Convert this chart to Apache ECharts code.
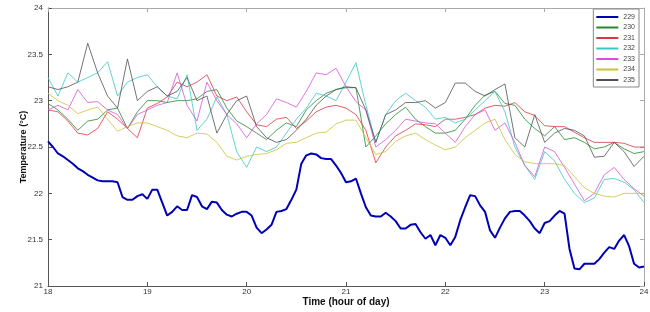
<!DOCTYPE html>
<html>
<head>
<meta charset="utf-8">
<script src="https://cdn.jsdelivr.net/npm/echarts@6/dist/echarts.min.js"></script>
<style>
  html, body { margin: 0; padding: 0; background: #fff; }
  #chart { width: 650px; height: 312px; }
</style>
</head>
<body>
<div id="chart"></div>
<script>
// sensor names (legend)
const sensors = ['229', '230', '231', '232', '233', '234', '235'];
const colors = ['#0000b4', '#238a2e', '#e2343e', '#3ac6c6', '#d452d8', '#c9c23a', '#505050'];

// x ticks (hour of day)
const startHour = 18;
const endHour = 24;

// sensor 229 sampled every 0.05 h
const fineStep = 0.05;
const s229 = [
  22.56, 22.50, 22.43, 22.40, 22.36, 22.32, 22.27, 22.24, 22.20, 22.17,
  22.14, 22.13, 22.13, 22.13, 22.12, 21.96, 21.93, 21.93, 21.97, 21.99,
  21.94, 22.04, 22.04, 21.90, 21.76, 21.80, 21.86, 21.82, 21.82, 21.98,
  21.96, 21.86, 21.83, 21.91, 21.90, 21.82, 21.77, 21.75, 21.78, 21.80,
  21.80, 21.76, 21.63, 21.57, 21.61, 21.66, 21.80, 21.81, 21.83, 21.93,
  22.04, 22.32, 22.41, 22.43, 22.42, 22.38, 22.37, 22.37, 22.30, 22.22,
  22.12, 22.13, 22.16, 22.00, 21.85, 21.76, 21.75, 21.75, 21.79, 21.75,
  21.70, 21.62, 21.62, 21.66, 21.67, 21.58, 21.51, 21.55, 21.44, 21.55,
  21.52, 21.44, 21.53, 21.71, 21.85, 21.98, 21.97, 21.87, 21.80, 21.60,
  21.52, 21.63, 21.73, 21.80, 21.81, 21.81, 21.76, 21.70, 21.62, 21.57,
  21.68, 21.70, 21.76, 21.81, 21.78, 21.40, 21.19, 21.18, 21.24, 21.24,
  21.24, 21.29, 21.36, 21.42, 21.40, 21.49, 21.55, 21.43, 21.24, 21.20,
  21.21
];

// other sensors sampled every 0.1 h
const step = 0.1;
const s230 = [
  22.97, 22.90, 22.80, 22.68, 22.78, 22.80, 22.90, 22.92, 22.70, 22.88,
  23.00, 23.00, 22.98, 23.00, 23.00, 23.02, 23.10, 23.12, 22.92, 22.78,
  22.72, 22.65, 22.58, 22.68, 22.76, 22.72, 22.90, 23.00, 23.08, 23.12,
  23.14, 23.14, 22.50, 22.62, 22.75, 22.85, 22.93, 22.80, 22.72, 22.65,
  22.65, 22.68, 22.80, 22.95, 23.06, 23.10, 22.97, 22.95, 22.80, 22.70,
  22.62, 22.72, 22.58, 22.60, 22.55, 22.48, 22.50, 22.55, 22.48, 22.43,
  22.45
];
const s231 = [
  22.90, 22.88, 22.78, 22.65, 22.63, 22.70, 22.88, 22.80, 22.70, 22.60,
  22.92, 22.97, 23.04, 23.20, 23.15, 23.20, 23.28, 23.05, 23.00, 23.04,
  22.88, 22.74, 22.72, 22.80, 22.82, 22.70, 22.78, 22.88, 22.93, 22.95,
  22.92, 22.85, 22.68, 22.33, 22.50, 22.62, 22.68, 22.75, 22.74, 22.72,
  22.80, 22.80, 22.82, 22.85, 22.92, 22.95, 22.94, 22.98, 22.88, 22.84,
  22.73, 22.72, 22.72, 22.66, 22.60, 22.55, 22.55, 22.55, 22.54, 22.50,
  22.50
];
const s232 = [
  23.25, 23.05, 23.30, 23.20, 23.25, 23.30, 23.42, 23.05, 23.20, 23.25,
  23.28, 23.15, 23.05, 23.02, 23.28, 22.68, 22.80, 23.04, 22.85, 22.45,
  22.28, 22.50, 22.45, 22.50, 22.65, 22.80, 22.92, 23.08, 23.05, 23.00,
  23.20, 23.41, 22.95, 22.55, 22.85, 23.00, 23.08, 23.00, 22.93, 22.80,
  22.82, 22.76, 22.80, 22.90, 23.00, 23.10, 22.88, 22.50, 22.30, 22.15,
  22.45, 22.35, 22.15, 22.00, 21.90, 21.95, 22.15, 22.16, 22.12, 22.04,
  21.90
];
const s233 = [
  22.90, 22.95, 22.90, 23.12, 22.98, 22.99, 22.90, 22.85, 22.70, 22.85,
  22.90, 22.95, 22.98, 23.30, 22.95, 22.78, 23.20, 23.00, 22.85, 22.75,
  22.60, 22.75, 22.85, 23.02, 22.98, 22.93, 23.10, 23.30, 23.28, 23.35,
  23.15, 22.99, 22.90, 22.50, 22.58, 22.68, 22.80, 22.78, 22.76, 22.75,
  22.65, 22.55, 22.72, 22.85, 22.90, 22.68, 22.76, 22.55, 22.30, 22.18,
  22.50, 22.45, 22.28, 22.10, 21.92, 22.00, 22.20, 22.28, 22.15, 22.05,
  21.97
];
const s234 = [
  23.08, 23.00, 22.95, 22.86, 22.90, 22.93, 22.80, 22.67, 22.72, 22.76,
  22.76, 22.72, 22.68, 22.62, 22.60, 22.65, 22.64, 22.55, 22.40, 22.36,
  22.40, 22.42, 22.43, 22.47, 22.54, 22.55, 22.60, 22.65, 22.66, 22.75,
  22.79, 22.79, 22.60, 22.42, 22.45, 22.56, 22.62, 22.65, 22.58, 22.52,
  22.47, 22.50, 22.60, 22.68, 22.76, 22.80, 22.58, 22.42, 22.34, 22.32,
  22.32, 22.32, 22.30, 22.18, 22.06, 22.00, 21.97, 21.96, 22.00, 22.00,
  22.00
];
const s235 = [
  23.15, 23.12, 23.15, 23.20, 23.62, 23.30, 23.05, 22.92, 23.45, 23.00,
  23.10, 23.15, 23.05, 23.10, 23.25, 23.00, 23.05, 22.65, 22.85, 23.00,
  23.05, 22.72, 22.60, 22.55, 22.58, 22.68, 22.80, 22.95, 23.05, 23.12,
  23.15, 23.14, 22.90, 22.55, 22.85, 22.90, 22.98, 22.98, 23.00, 22.92,
  22.98, 23.19, 23.19, 23.10, 23.05, 23.12, 23.18, 22.60, 22.50, 22.85,
  22.55, 22.65, 22.70, 22.68, 22.62, 22.39, 22.40, 22.55, 22.45, 22.29,
  22.40
];

const seriesValues = [s229, s230, s231, s232, s233, s234, s235];
const seriesSteps = [fineStep, step, step, step, step, step, step];

const font = 'Liberation Sans, Arial, sans-serif';

const series = sensors.map((name, k) => ({
  name: name,
  type: 'line',
  symbol: 'none',
  z: k === 0 ? 3 : 2,
  lineStyle: { width: k === 0 ? 2 : 0.8, color: colors[k] },
  itemStyle: { color: colors[k] },
  data: seriesValues[k].map((v, i) => [startHour + i * seriesSteps[k], v])
}));

const chart = echarts.init(document.getElementById('chart'));
chart.setOption({
  animation: false,
  backgroundColor: '#fff',
  grid: { left: 48, right: 6, top: 8, bottom: 26, outerBoundsMode: 'none' },
  legend: {
    orient: 'vertical',
    right: 11,
    top: 9,
    data: sensors,
    icon: 'rect',
    itemWidth: 22,
    itemHeight: 2,
    itemGap: 2.5,
    padding: [4, 4, 3, 3],
    borderColor: '#888',
    borderWidth: 1,
    backgroundColor: '#fff',
    textStyle: { fontSize: 7, lineHeight: 8, color: '#444', fontFamily: font }
  },
  xAxis: [{
    type: 'value',
    min: startHour,
    max: endHour,
    interval: 1,
    name: 'Time (hour of day)',
    nameLocation: 'middle',
    nameGap: 11,
    nameMoveOverlap: false,
    nameTextStyle: { fontSize: 10, fontWeight: 'bold', color: '#111', fontFamily: font },
    axisLine: { lineStyle: { color: '#555' } },
    axisTick: { inside: true, length: 4, lineStyle: { color: '#555' } },
    axisLabel: { fontSize: 8, color: '#333', margin: 2, fontFamily: font },
    splitLine: { show: false }
  }, {
    type: 'value',
    position: 'top',
    min: startHour,
    max: endHour,
    interval: 1,
    axisLine: { lineStyle: { color: '#aaa' } },
    axisTick: { inside: true, length: 4, lineStyle: { color: '#aaa' } },
    axisLabel: { show: false },
    splitLine: { show: false }
  }],
  yAxis: [{
    type: 'value',
    min: 21,
    max: 24,
    interval: 0.5,
    name: 'Temperature (°C)',
    nameLocation: 'middle',
    nameGap: 20,
    nameMoveOverlap: false,
    nameTextStyle: { fontSize: 9, fontWeight: 'bold', color: '#111', fontFamily: font },
    axisLine: { show: true, lineStyle: { color: '#555' } },
    axisTick: { show: true, inside: true, length: 4, lineStyle: { color: '#555' } },
    axisLabel: { fontSize: 8, color: '#333', margin: 5, fontFamily: font },
    splitLine: { show: false }
  }, {
    type: 'value',
    position: 'right',
    min: 21,
    max: 24,
    interval: 0.5,
    axisLine: { show: true, lineStyle: { color: '#aaa' } },
    axisTick: { show: true, inside: true, length: 4, lineStyle: { color: '#aaa' } },
    axisLabel: { show: false },
    splitLine: { show: false }
  }],
  series: series
});
</script>
</body>
</html>
